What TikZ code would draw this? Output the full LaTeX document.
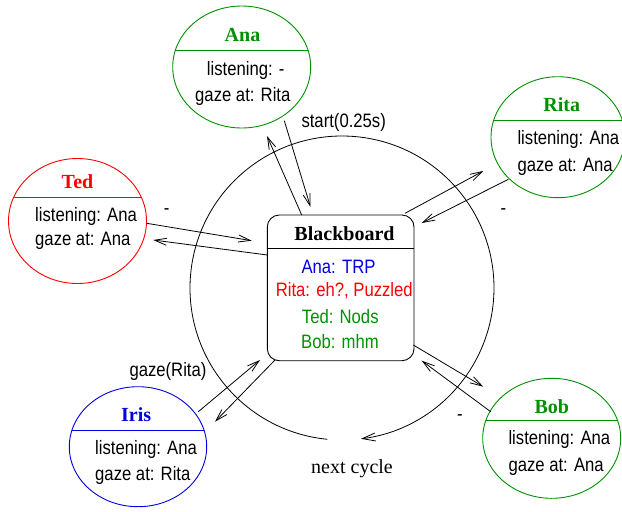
\documentclass[tikz,border=0pt]{standalone}
\usepackage{fontspec}
\setmainfont{Liberation Sans}[FakeStretch=0.86]
\newfontfamily\seriffam{Liberation Serif}
\usetikzlibrary{shapes.geometric,arrows.meta}
\definecolor{figgreen}{RGB}{0,145,0}
\definecolor{figred}{RGB}{255,0,0}
\definecolor{figblue}{RGB}{0,0,225}
\tikzset{
  lbl/.style={font=\fontsize{19.4}{21}\selectfont, inner sep=0pt, text height=13.9pt, text depth=4.1pt},
  ttl/.style={font=\seriffam\bfseries\fontsize{20}{22}\selectfont, inner sep=0pt, text height=13.3pt, text depth=0pt},
  agent/.style={ellipse, draw, line width=0.9pt, minimum width=138pt, minimum height=121pt, inner sep=0pt},
  divider/.style={line width=0.9pt},
  link/.style={line width=0.8pt, -{Straight Barb[length=12pt,width=7pt]}},
  cycle/.style={line width=0.8pt, -{Straight Barb[length=13pt,width=8pt]}}
}
\begin{document}
\begin{tikzpicture}[x=1pt,y=-1pt]
\clip (0,0) rectangle (622,512);
\fill[white] (0,0) rectangle (622,512);

% big cycle
\coordinate (cc) at (342,288);
\draw[cycle] (cc) ++(264.5:152pt) arc[start angle=264.5, end angle=-82.8, radius=152pt];
\node[font=\seriffam\fontsize{20}{22}\selectfont, inner sep=0pt, text height=13.6pt, text depth=4.4pt] (next) at (352,468.7) {next cycle};

% blackboard
\node[draw, line width=0.9pt, rounded corners=12pt, minimum width=146.7pt, minimum height=145.7pt, inner sep=0pt] (bb) at (340.65,287.85) {};
\draw[divider] (bb.west |- 0,248.3) -- (bb.east |- 0,248.3);
\node[ttl] (bbt) at (344.5,234) {Blackboard};
\node[lbl, text=figblue] (bb1) at (338.5,268.3) {Ana: TRP};
\node[lbl, text=figred] (bb2) at (344.3,291.7) {Rita: eh?, Puzzled};
\node[lbl, text=figgreen] (bb3) at (340.3,318.3) {Ted: Nods};
\node[lbl, text=figgreen] (bb4) at (340,344) {Bob: mhm};

% Ana
\node[agent, draw=figgreen, minimum height=122pt] (ana) at (241.7,67) {};
\begin{scope}\clip (241.7,67) ellipse[x radius=69pt, y radius=61pt];
\draw[divider, figgreen] (170,50.7) -- (314,50.7);\end{scope}
\node[ttl, text=figgreen] (anat) at (242.5,35) {Ana};
\node[lbl, anchor=west] (ana1) at (206.7,70.7) {listening: -};
\node[lbl, anchor=west] (ana2) at (195,96.7) {gaze at: Rita};

% Ted
\node[agent, draw=figred, minimum height=125pt] (ted) at (77.5,221) {};
\begin{scope}\clip (77.5,221) ellipse[x radius=69pt, y radius=62.5pt];
\draw[divider, figred] (5,197.3) -- (150,197.3);\end{scope}
\node[ttl, text=figred] (tedt) at (77.5,182.3) {Ted};
\node[lbl, anchor=west] (ted1) at (35,216.7) {listening: Ana};
\node[lbl, anchor=west] (ted2) at (35,240.7) {gaze at: Ana};

% Rita
\node[agent, draw=figgreen, minimum width=134pt] (rita) at (558,137.2) {};
\begin{scope}\clip (558,137.2) ellipse[x radius=67pt, y radius=60.5pt];
\draw[divider, figgreen] (488,120) -- (628,120);\end{scope}
\node[ttl, text=figgreen] (ritat) at (561.7,105) {Rita};
\node[lbl, anchor=west] (rita1) at (517.3,140) {listening: Ana};
\node[lbl, anchor=west] (rita2) at (517.3,166.7) {gaze at: Ana};

% Bob
\node[agent, draw=figgreen, minimum height=120pt] (bob) at (551.7,438.3) {};
\begin{scope}\clip (551.7,438.3) ellipse[x radius=69pt, y radius=60pt];
\draw[divider, figgreen] (480,420.7) -- (624,420.7);\end{scope}
\node[ttl, text=figgreen] (bobt) at (551.8,406.7) {Bob};
\node[lbl, anchor=west] (bob1) at (508.3,440) {listening: Ana};
\node[lbl, anchor=west] (bob2) at (508.3,466.7) {gaze at: Ana};

% Iris
\node[agent, draw=figblue, minimum width=137.4pt, minimum height=120pt] (iris) at (138,446.7) {};
\begin{scope}\clip (138,446.7) ellipse[x radius=68.7pt, y radius=60pt];
\draw[divider, figblue] (66,430) -- (210,430);\end{scope}
\node[ttl, text=figblue] (irist) at (136.2,415) {Iris};
\node[lbl, anchor=west] (iris1) at (95,449.3) {listening: Ana};
\node[lbl, anchor=west] (iris2) at (95,476) {gaze at: Rita};

% connector end points
\coordinate (anaA1) at (284.3,120.7); \coordinate (anaA2) at (310.5,207);
\coordinate (anaB1) at (301.7,215);   \coordinate (anaB2) at (267,136);
\coordinate (tedA1) at (146.7,223.3); \coordinate (tedA2) at (251.7,240.7);
\coordinate (tedB1) at (267.3,255);   \coordinate (tedB2) at (153.3,240);
\coordinate (ritaA1) at (405,213.3);  \coordinate (ritaA2) at (483.3,171);
\coordinate (ritaB1) at (508.3,179.3);\coordinate (ritaB2) at (421.7,223);
\coordinate (bobA1) at (413.3,345);   \coordinate (bobA2) at (483.3,386.7);
\coordinate (bobB1) at (490.7,411.7); \coordinate (bobB2) at (421.7,360.7);
\coordinate (irisA1) at (198.3,411.7);\coordinate (irisA2) at (260,360);
\coordinate (irisB1) at (275,360);    \coordinate (irisB2) at (215,421.7);

\draw[link] (anaA1) -- (anaA2);
\draw[link] (anaB1) -- (anaB2);
\draw[link] (tedA1) -- (tedA2);
\draw[link] (tedB1) -- (tedB2);
\draw[link] (ritaA1) -- (ritaA2);
\draw[link] (ritaB1) -- (ritaB2);
\draw[link] (bobA1) -- (bobA2);
\draw[link] (bobB1) -- (bobB2);
\draw[link] (irisA1) -- (irisA2);
\draw[link] (irisB1) -- (irisB2);

% connector labels
\node[lbl] (start) at (343.7,122.5) {start(0.25s)};
\node[lbl] (gaze) at (168,371.7) {gaze(Rita)};
\node[lbl] (tedm) at (166.7,210) {-};
\node[lbl] (ritam) at (503.3,210) {-};
\node[lbl] (bobm) at (460,416) {-};
\end{tikzpicture}
\end{document}
